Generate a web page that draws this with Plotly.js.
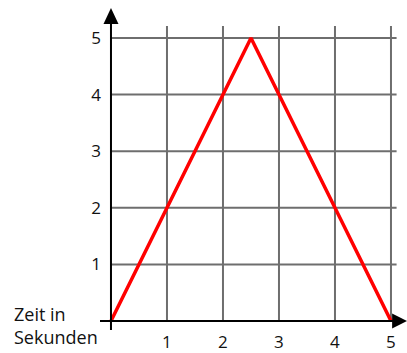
<!DOCTYPE html>
<html>
<head>
<meta charset="utf-8">
<script src="https://cdn.plot.ly/plotly-3.0.1.min.js"></script>
<style>html,body{margin:0;padding:0;background:#fff;}#chart{width:407px;height:353px;}</style>
</head>
<body>
<div id="chart"></div>
<script>
// Data
const timeX = [0, 2.5, 5];
const valueY = [0, 5, 0];
const xTickVals = [1, 2, 3, 4, 5];
const xTickLabels = ['1', '2', '3', '4', '5'];
const yTickVals = [1, 2, 3, 4, 5];
const yTickLabels = ['1', '2', '3', '4', '5'];
const axisLabel = 'Zeit in<br>Sekunden';

// Layout constants
const xRange = [-0.196, 5.286];
const yRange = [-0.159, 5.53];
const gridTop = 5.21;
const gridRight = 5.1;
const gridColor = '#6e6e6e';

const shapes = [];
xTickVals.forEach(v => shapes.push({type:'line', xref:'x', yref:'y', x0:v, x1:v, y0:0, y1:gridTop, line:{color:gridColor, width:2}, layer:'below'}));
yTickVals.forEach(v => shapes.push({type:'line', xref:'x', yref:'y', x0:0, x1:gridRight, y0:v, y1:v, line:{color:gridColor, width:2}, layer:'below'}));
// axes
shapes.push({type:'line', xref:'x', yref:'y', x0:xRange[0], x1:5.05, y0:0, y1:0, line:{color:'#000', width:2}});
shapes.push({type:'line', xref:'x', yref:'y', x0:0, x1:0, y0:yRange[0], y1:5.25, line:{color:'#000', width:2}});
// arrow heads (pixel-sized, anchored to the axis ends)
shapes.push({type:'path', xref:'x', yref:'y', xsizemode:'pixel', ysizemode:'pixel', xanchor:5.02, yanchor:0,
  path:'M0,-7.5 L15,0 L0,7.5 Z', fillcolor:'#000', line:{color:'#000', width:0}});
shapes.push({type:'path', xref:'x', yref:'y', xsizemode:'pixel', ysizemode:'pixel', xanchor:0, yanchor:5.247,
  path:'M-7.5,0 L7.5,0 L0,16 Z', fillcolor:'#000', line:{color:'#000', width:0}});

const trace = {
  x: timeX, y: valueY, type:'scatter', mode:'lines',
  line:{color:'#ff0000', width:3.5}, hoverinfo:'skip', cliponaxis:false
};

const font = {family:'"Open Sans", sans-serif', size:17, color:'#111'};

const layout = {
  width:407, height:353,
  margin:{l:100, r:0, t:8, b:23},
  paper_bgcolor:'#fff', plot_bgcolor:'#fff',
  showlegend:false,
  font: font,
  xaxis:{range:xRange, showgrid:false, zeroline:false, showline:false, ticks:'',
    tickmode:'array', tickvals:xTickVals, ticktext:xTickLabels, tickfont:font, fixedrange:true},
  yaxis:{range:yRange, showgrid:false, zeroline:false, showline:false, ticks:'',
    tickmode:'array', tickvals:yTickVals, ticktext:yTickLabels, tickfont:font, ticklabelstandoff:-2, fixedrange:true},
  shapes: shapes,
  annotations:[{text:axisLabel, xref:'paper', yref:'paper', x:-0.287, y:0.015, xanchor:'left', yanchor:'middle',
    align:'left', showarrow:false, font:{family:'"Open Sans", sans-serif', size:18, color:'#111'}}]
};

Plotly.newPlot('chart', [trace], layout, {displayModeBar:false, staticPlot:true});
</script>
</body>
</html>
